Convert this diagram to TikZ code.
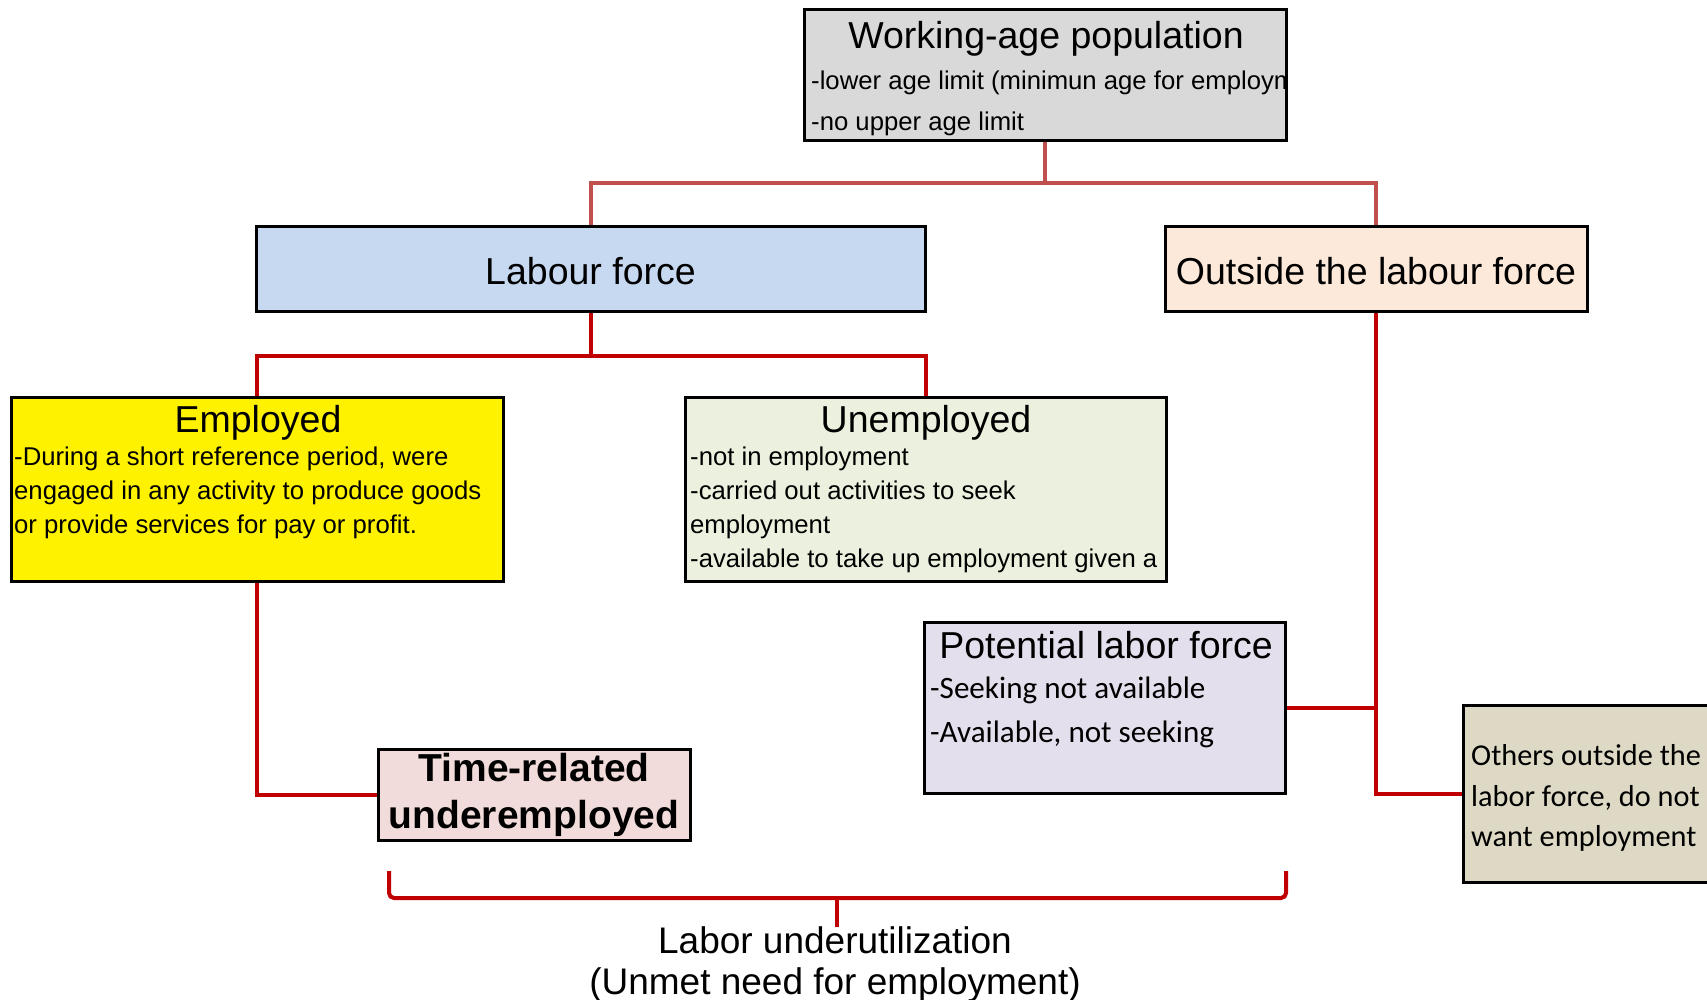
\documentclass[tikz,border=0pt]{standalone}
\usepackage{fontspec}
\setmainfont{Liberation Sans}
\newfontfamily\calfont{Carlito}
\usetikzlibrary{calc}

\definecolor{linkred}{HTML}{C00000}
\definecolor{toplinkred}{HTML}{C0504D}
\definecolor{wapgray}{HTML}{D9D9D9}
\definecolor{labcol}{HTML}{C6D9F1}
\definecolor{outcol}{HTML}{FDE9D9}
\definecolor{unempcol}{HTML}{EBF1DE}
\definecolor{potcol}{HTML}{E4DFEC}
\definecolor{othcol}{HTML}{DDD9C4}
\definecolor{trucol}{HTML}{F2DCDB}

\newcommand{\boxtitlefont}{\fontsize{37.5}{44}\selectfont}
\newcommand{\boxnotefont}{\fontsize{25.7}{34}\selectfont}

\begin{document}
\begin{tikzpicture}[x=1pt,y=-1pt,
  box/.style={draw=black,line width=3pt,inner sep=0pt},
  link/.style={draw=linkred,line width=4pt},
  toplink/.style={draw=toplinkred,line width=4pt},
  boxtitle/.style={anchor=base,inner sep=0pt,font=\boxtitlefont},
  boxnote/.style={anchor=west,align=left,inner sep=0pt,font=\boxnotefont}]
\useasboundingbox (0,0) rectangle (1707,1000);
\clip (0,0) rectangle (1707,1000);

\node [box,fill=wapgray,minimum width=482,minimum height=131] (wap) at (1045,75.5) {};
\node [box,fill=labcol,minimum width=669,minimum height=85,font=\boxtitlefont,text height=31.8pt,text depth=0pt] (lab) at (590.5,268.8) {Labour force};
\node [box,fill=outcol,minimum width=422,minimum height=85,font=\boxtitlefont,text height=31.8pt,text depth=0pt] (out) at (1376,268.8) {Outside the labour force};
\node [box,fill=yellow,minimum width=492,minimum height=184] (emp) at (257,489) {};
\node [box,fill=unempcol,minimum width=481,minimum height=184] (unemp) at (925.5,489) {};
\node [box,fill=potcol,minimum width=361,minimum height=171] (pot) at (1104.5,707.5) {};
\node [box,fill=othcol,minimum width=267,minimum height=177] (oth) at (1596.5,793.5) {};
\node [box,fill=trucol,minimum width=312,minimum height=91,align=center,font=\bfseries\fontsize{39}{47}\selectfont] (tru) at (534,794.5) {Time-related\\underemployed};

\node [boxtitle] (waptitle) at (1046,49) {Working-age population};
\node [boxtitle] (emptitle) at (258,432) {Employed};
\node [boxtitle] (unemptitle) at (926,432) {Unemployed};
\node [boxtitle] (pottitle) at (1106,658) {Potential labor force};

\begin{scope}
\clip (wap.south west) rectangle ([xshift=-1.5pt]wap.north east);
\node [boxnote,font=\fontsize{25.7}{41}\selectfont] (wapnote) at (811,103) {-lower age limit (minimun age for employment)\\-no upper age limit};
\end{scope}
\node [boxnote] (empnote) at (14,493) {-During a short reference period, were\\engaged in any activity to produce goods\\or provide services for pay or profit.};
\begin{scope}
\clip (unemp.south west) rectangle ([xshift=-1.5pt]unemp.north east);
\node [boxnote] (unempnote) at (690,509.5) {-not in employment\\-carried out activities to seek\\employment\\-available to take up employment given a};
\end{scope}
\node [boxnote,font=\calfont\fontsize{31.1}{44}\selectfont] (potnote) at (930,712.5) {-Seeking not available\\-Available, not seeking};
\node [boxnote,font=\calfont\fontsize{30.3}{40.5}\selectfont] (othnote) at (1471,798) {Others outside the\\labor force, do not\\want employment};

\draw [toplink] (wap.south) -- ++(0,41) coordinate (wapj) -| (lab.north);
\draw [toplink] (wapj) -| (out.north);
\draw [link] (lab.south) -- ++(0,43) coordinate (labj) -| (emp.north);
\draw [link] (labj) -| (unemp.north);
\draw [link] (out.south) |- (oth.west);
\draw [link] (pot.east) -- (pot.east -| out.south);
\draw [link] (emp.south) |- (tru.west);

\coordinate (bleft) at (389,871);
\coordinate (bright) at (1286,871);
\coordinate (bmid) at (837,898);
\coordinate (btip) at (837,927);
\draw [link,rounded corners=5pt] (bleft) |- (bmid) -| (bright);
\draw [link] (bmid) -- (btip);
\node [align=center,inner sep=0pt,font=\fontsize{37}{41}\selectfont] (under) at (835,964) {Labor underutilization\\(Unmet need for employment)};
\end{tikzpicture}
\end{document}
